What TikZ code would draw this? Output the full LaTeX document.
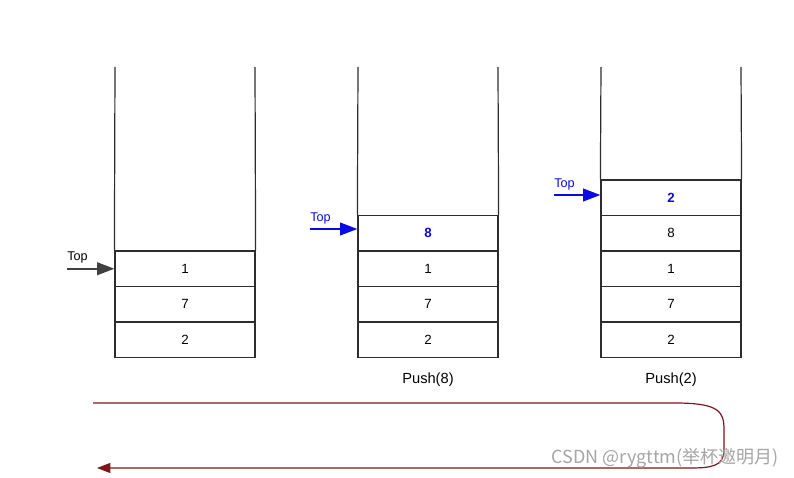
\documentclass[tikz,border=0pt]{standalone}
\usepackage{fontspec}
\setmainfont{Liberation Sans}
\newfontfamily\cjkwm{Noto Sans CJK SC}
\usetikzlibrary{arrows.meta}
\definecolor{linegray}{RGB}{45,45,45}
\definecolor{topblue}{RGB}{10,10,230}
\definecolor{loopred}{RGB}{130,20,25}
\definecolor{wmgray}{RGB}{165,165,165}
\tikzset{
  cell/.style={draw=linegray, line width=0.9pt, minimum width=105pt, minimum height=26.6pt, inner sep=0pt, font=\fontsize{10}{12}\selectfont},
  newcell/.style={cell, text=topblue, font=\fontsize{10}{12}\selectfont\bfseries},
  wall/.style={draw=linegray, line width=0.9pt},
  toparrow/.style={line width=1.4pt, -{Triangle[length=13pt,width=9.5pt]}},
  toptext/.style={font=\fontsize{9.5}{11}\selectfont, inner sep=0pt, anchor=south west},
  caption/.style={font=\fontsize{11}{13}\selectfont},
  loopline/.style={draw=loopred, line width=0.9pt, -{Triangle[length=10pt,width=7.5pt]}}
}
\begin{document}
\begin{tikzpicture}[x=0.75pt,y=-0.75pt]
\useasboundingbox (0,0) rectangle (794,478);
% stack 1
\node[cell] (a1) at (185,268.75) {1};
\node[cell] (a2) at (185,304.25) {7};
\node[cell] (a3) at (185,339.75) {2};
\coordinate (a0l) at (115,67);
\coordinate (a0r) at (255,67);
\draw[wall] (a0l) -- (a1.north west);
\draw[wall] (a0r) -- (a1.north east);
% stack 2
\node[newcell] (b0) at (428,233.25) {8};
\node[cell] (b1) at (428,268.75) {1};
\node[cell] (b2) at (428,304.25) {7};
\node[cell] (b3) at (428,339.75) {2};
\coordinate (b0l) at (358,67);
\coordinate (b0r) at (498,67);
\draw[wall] (b0l) -- (b0.north west);
\draw[wall] (b0r) -- (b0.north east);
\node[caption] (pb) at (428,380) {Push(8)};
% stack 3
\node[newcell] (c0) at (671,197.75) {2};
\node[cell] (c1) at (671,233.25) {8};
\node[cell] (c2) at (671,268.75) {1};
\node[cell] (c3) at (671,304.25) {7};
\node[cell] (c4) at (671,339.75) {2};
\coordinate (c0l) at (601,67);
\coordinate (c0r) at (741,67);
\draw[wall] (c0l) -- (c0.north west);
\draw[wall] (c0r) -- (c0.north east);
\node[caption] (pc) at (671,380) {Push(2)};
% top pointers
\coordinate (ta) at (67,268.75);
\draw[toparrow, color=black!75] (ta) -- (a1.west);
\node[toptext] (tta) at (67,263) {Top};
\coordinate (tb) at (310,229);
\draw[toparrow, color=topblue] (tb) -- (b0.west |- tb);
\node[toptext, text=topblue] (ttb) at (310,224) {Top};
\coordinate (tc) at (554,195);
\draw[toparrow, color=topblue] (tc) -- (c0.west |- tc);
\node[toptext, text=topblue] (ttc) at (554,190) {Top};
% loop arrow
\coordinate (ls) at (93,403);
\coordinate (le) at (97,468);
\draw[loopline] (ls) -- (675,403) .. controls (720,403) and (724,412) .. (724,430) -- (724,450) .. controls (724,466) and (712,468) .. (690,468) -- (le);
% watermark
\node[text=wmgray, font=\cjkwm\fontsize{13.5}{15}\selectfont, anchor=east, inner sep=0pt] (wm) at (779,458) {CSDN @rygttm(举杯邀明月)};
\end{tikzpicture}
\end{document}
